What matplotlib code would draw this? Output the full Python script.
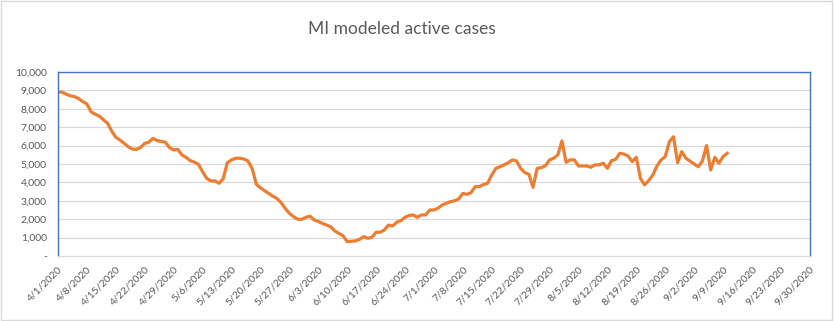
import matplotlib
matplotlib.use("Agg")
import matplotlib.pyplot as plt
from matplotlib.ticker import FuncFormatter
import pandas as pd

# daily modeled active cases, starting 4/1/2020
start_date = "2020-04-01"
active_cases = [
    8900, 8900, 8790, 8700, 8660, 8550, 8390, 8260, 7840, 7700,
    7600, 7400, 7210, 6790, 6450, 6300, 6120, 5940, 5810, 5790,
    5900, 6120, 6180, 6390, 6270, 6220, 6180, 5890, 5760, 5790,
    5490, 5360, 5180, 5100, 4980, 4580, 4220, 4080, 4080, 3950,
    4200, 5070, 5220, 5310, 5310, 5270, 5160, 4760, 3900, 3710,
    3550, 3400, 3250, 3130, 2900, 2590, 2320, 2140, 2000, 1990,
    2100, 2170, 1960, 1880, 1770, 1680, 1590, 1360, 1230, 1100,
    780, 800, 820, 900, 1050, 960, 1020, 1290, 1290, 1410,
    1680, 1630, 1830, 1920, 2100, 2200, 2230, 2100, 2230, 2230,
    2500, 2500, 2600, 2770, 2860, 2950, 3000, 3100, 3400, 3350,
    3440, 3770, 3770, 3880, 3950, 4400, 4760, 4850, 4950, 5070,
    5220, 5160, 4760, 4530, 4440, 3730, 4760, 4800, 4900, 5220,
    5310, 5490, 6250, 5090, 5220, 5220, 4890, 4890, 4890, 4820,
    4950, 4950, 5040, 4760, 5180, 5250, 5580, 5540, 5430, 5130,
    5360, 4220, 3860, 4100, 4400, 4890, 5220, 5400, 6210, 6480,
    5070, 5670, 5310, 5150, 5000, 4850, 5160, 6000, 4670, 5360,
    5040, 5400, 5580,
]
dates = pd.date_range(start_date, periods=len(active_cases), freq="D")

axis_start = pd.Timestamp("2020-04-01")
axis_end = pd.Timestamp("2020-09-30")
y_ticks = list(range(0, 10001, 1000))

plt.rcParams["font.family"] = ["Lato", "DejaVu Sans"]

fig = plt.figure(figsize=(8.34, 3.21), dpi=100)
ax = fig.add_axes([0.0695, 0.2025, 0.9015, 0.5735])

ax.plot(dates, active_cases, color="#ED7D31", lw=2.3, solid_joinstyle="round")

ax.set_xlim(axis_start, axis_end)
ax.set_ylim(0, 10000)
ax.set_yticks(y_ticks)
ax.yaxis.set_major_formatter(FuncFormatter(lambda v, p: "-" if v == 0 else f"{int(v):,}"))

ticks = pd.date_range(axis_start, axis_end, freq="7D")
ax.set_xticks(ticks)
ax.set_xticklabels([f"{d.month}/{d.day}/{d.year}" for d in ticks],
                   rotation=45, ha="right", rotation_mode="anchor")

ax.grid(axis="y", color="#D9D9D9", lw=0.9)
ax.set_axisbelow(True)
for side in ["top", "left", "right"]:
    ax.spines[side].set_color("#4472C4")
    ax.spines[side].set_linewidth(1.0)
ax.spines["bottom"].set_color("#D9D9D9")
ax.tick_params(axis="both", length=0, labelsize=7.5, labelcolor="#595959")
ax.tick_params(axis="x", pad=6)
ax.tick_params(axis="y", pad=8)

fig.text(0.482, 0.91, "MI modeled active cases", ha="center", va="center",
         fontsize=12.5, color="#595959")

fig.patches.append(plt.Rectangle((0.001, 0.002), 0.997, 0.995, transform=fig.transFigure,
                                 fill=False, edgecolor="#D9D9D9", lw=1))

fig.savefig("out.png", dpi=100)
